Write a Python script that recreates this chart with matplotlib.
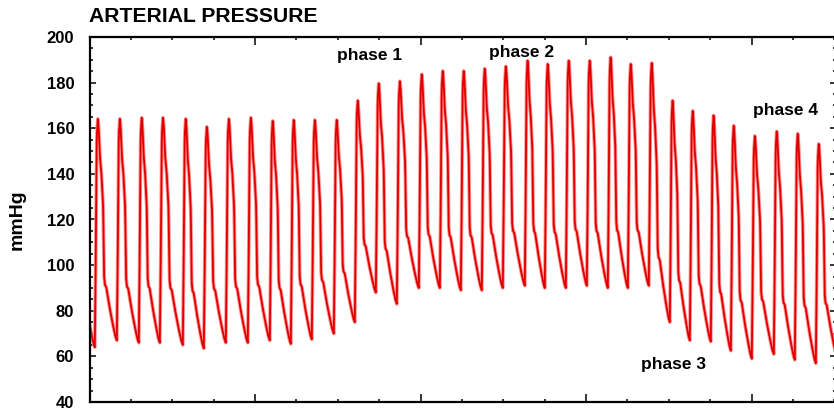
import numpy as np
import matplotlib
matplotlib.use("Agg")
import matplotlib.pyplot as plt
from matplotlib.ticker import MultipleLocator

# ---- data ----
# beat onset times (s); last entry = onset of the (off-chart) next beat
onsets = [-0.50, 0.160, 0.825, 1.489, 2.124, 2.819, 3.453, 4.118, 4.782, 5.447,
          6.082, 6.716, 7.381, 8.015, 8.650, 9.284, 9.949, 10.584, 11.218,
          11.852, 12.486, 13.151, 13.755, 14.390, 15.024, 15.659, 16.263,
          16.897, 17.532, 18.136, 18.770, 19.375, 20.009, 20.674, 21.308,
          21.943, 22.58]
# systolic peak of each beat (mmHg)
systolic = [164, 164.5, 164.5, 165, 165, 164.5, 161, 164.5, 165, 163.6, 164,
            164, 164, 172.5, 180, 181, 184, 185.5, 185.5, 186.5, 187.5, 190,
            188.5, 190, 190, 191.5, 188.5, 189, 172.5, 168, 166, 161.5, 157,
            159, 158, 153.5]
# diastolic value at each onset (mmHg)
diastolic = [66, 64, 67, 66, 66, 65, 63.5, 66, 66, 67, 65.5, 67.5, 70, 75, 88,
             83, 90, 90, 89, 89, 90, 91, 90, 90, 91, 90, 90, 91, 75, 67, 66.5,
             62.5, 59, 61, 58.5, 57, 60]
# normalised shape of one beat (phase, fraction of pulse height)
shape_phase = [0.00, 0.03, 0.09, 0.14, 0.18, 0.23, 0.30, 0.38, 0.42, 0.46,
               0.52, 0.65, 0.80, 0.93, 1.00]
shape_level = [0.00, 0.25, 0.92, 1.00, 0.95, 0.83, 0.75, 0.60, 0.29, 0.25,
               0.24, 0.16, 0.08, 0.02, 0.00]

phase_labels = ["phase 1", "phase 2", "phase 3", "phase 4"]
phase_x = [8.46, 13.05, 17.65, 21.02]
phase_y = [191.7, 193.2, 56.6, 168.0]

# ---- build trace ----
sp = np.array(shape_phase)
sl = np.array(shape_level)
peak_i = int(np.argmax(sl))
ts, vs = [], []
for k in range(len(systolic)):
    t0, t1 = onsets[k], onsets[k + 1]
    S, D0, D1 = systolic[k], diastolic[k], diastolic[k + 1]
    ph = np.linspace(0, 1, 80, endpoint=False)
    n = np.interp(ph, sp, sl)
    base = np.where(ph <= sp[peak_i], D0, D1)
    v = base + n * (S - base)
    ts.append(t0 + ph * (t1 - t0))
    vs.append(v)
t = np.concatenate(ts)
v = np.concatenate(vs)

# ---- figure ----
plt.rcParams['font.family'] = ['Liberation Sans', 'DejaVu Sans']
fig = plt.figure(figsize=(8.34, 4.11), dpi=100)
ax = fig.add_axes([89.5 / 834, 1 - 402 / 411, (835.5 - 89.5) / 834, (402 - 37) / 411])

ax.plot(t, v, color='#ff9090', lw=2.6, solid_joinstyle='round')
ax.plot(t, v, color='#ee0000', lw=1.3, solid_joinstyle='round')
ax.plot(t, v, color='#a80000', lw=0.5, alpha=0.4, solid_joinstyle='round')

ax.set_xlim(0, (835.5 - 89.5) / 33.1)
ax.set_ylim(40, 200)
ax.xaxis.set_major_locator(MultipleLocator(5))
ax.xaxis.set_minor_locator(MultipleLocator(1.25))
ax.yaxis.set_major_locator(MultipleLocator(20))
ax.yaxis.set_minor_locator(MultipleLocator(5))
ax.tick_params(which='both', direction='in', top=True, right=True,
               labelbottom=False, width=1.1, color='black')
ax.tick_params(axis='x', which='major', length=5.5)
ax.tick_params(axis='x', which='minor', length=2.5)
ax.tick_params(axis='y', which='major', length=4)
ax.tick_params(axis='y', which='minor', length=2.5)
ax.tick_params(axis='y', which='major', labelsize=12, pad=11)
for lab in ax.get_yticklabels():
    lab.set_fontweight('bold')
for s in ax.spines.values():
    s.set_linewidth(1.6)

fig.text(89 / 834, 1 - 16 / 411, "ARTERIAL PRESSURE", fontsize=15.2,
         fontweight='bold', ha='left', va='center')
fig.text(17.5 / 834, 1 - 220 / 411, "mmHg", fontsize=14, fontweight='bold',
         rotation=90, ha='center', va='center')

for lab, x, y in zip(phase_labels, phase_x, phase_y):
    ax.text(x, y, lab, fontsize=12.5, fontweight='bold', ha='center',
            va='center')

fig.savefig("out.png", dpi=100)
